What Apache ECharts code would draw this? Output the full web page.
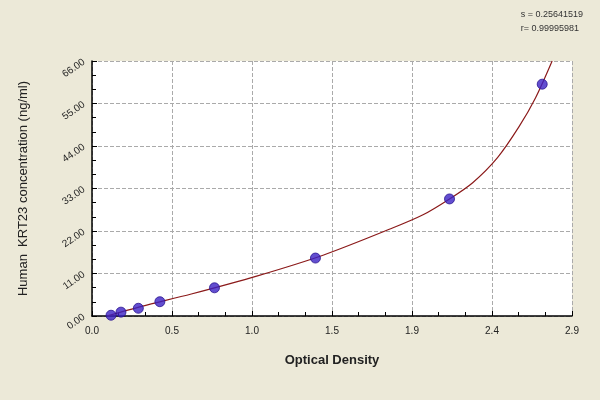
<!DOCTYPE html><html><head><meta charset="utf-8"><script src="https://cdn.jsdelivr.net/npm/echarts@6/dist/echarts.min.js"></script>
<style>html,body{margin:0;background:#ece9d8}#c{width:600px;height:400px}</style></head><body><div id="c"></div><script>
const xVals=[0.115,0.175,0.28,0.41,0.74,1.35,2.16,2.72];
const yVals=[0.2,1.0,2.0,3.7,7.3,15.0,30.3,60.0];
const curveX=[0.09,0.3,0.6,1.0,1.4,1.8,2.0,2.16,2.3,2.45,2.58,2.68,2.78];
const curveY=[0,2.5,5.7,10.4,15.8,22.5,26.2,30.3,34.5,41,49,56.5,66];
const xTicks=['0.0','0.5','1.0','1.5','1.9','2.4','2.9'];
const yTicks=['0.00','11.00','22.00','33.00','44.00','55.00','66.00'];
const c=echarts.init(document.getElementById('c'));
const lf={fontFamily:'Arial',fontSize:10,color:'#222'};
c.setOption({backgroundColor:'#ece9d8',animation:false,
grid:{left:92,right:28,top:61,bottom:84,show:true,backgroundColor:'#fff',borderWidth:0},
title:{text:'s = 0.25641519\nr= 0.99995981',right:12,top:3,textStyle:{fontFamily:'Arial',fontSize:9,fontWeight:'normal',color:'#333',lineHeight:14}},
xAxis:{type:'value',min:0,max:2.9,interval:2.9/6,name:'Optical Density',nameLocation:'middle',nameGap:38,nameTextStyle:{fontFamily:'Arial',fontSize:13,fontWeight:'bold',color:'#222'},
axisLine:{lineStyle:{color:'#000',width:1.5}},axisTick:{inside:true,length:5,lineStyle:{color:'#000'}},minorTick:{show:true,splitNumber:3,length:4,lineStyle:{color:'#000'}},
axisLabel:{...lf,margin:10,formatter:v=>xTicks[Math.round(v/(2.9/6))]},splitLine:{lineStyle:{type:'dashed',color:'#aaa'}}},
yAxis:{type:'value',min:0,max:66,interval:11,name:'Human  KRT23 concentration (ng/ml)',nameLocation:'middle',nameGap:62,nameTextStyle:{fontFamily:'Arial',fontSize:13,color:'#222'},
axisLine:{show:true,lineStyle:{color:'#000',width:1.5}},axisTick:{inside:true,length:5,lineStyle:{color:'#000'}},minorTick:{show:true,splitNumber:3,length:4,lineStyle:{color:'#000'}},
axisLabel:{...lf,rotate:35,formatter:v=>yTicks[Math.round(v/11)]},splitLine:{lineStyle:{type:'dashed',color:'#aaa'}}},
series:[{type:'line',smooth:0.3,symbol:'none',data:curveX.map((x,i)=>[x,curveY[i]]),lineStyle:{color:'#8b1a1a',width:1.2},z:2},
{type:'scatter',data:xVals.map((x,i)=>[x,yVals[i]]),symbolSize:10,itemStyle:{color:'#3b22c4',borderColor:'#2a1590',borderWidth:1},z:3}]});
</script></body></html>
